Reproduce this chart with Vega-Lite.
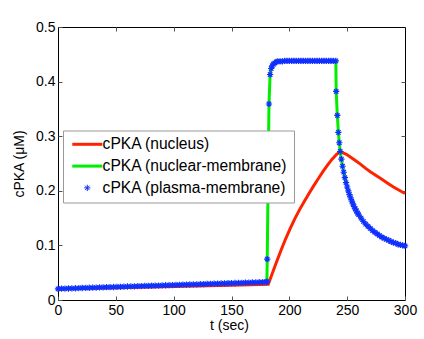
{
  "$schema": "https://vega.github.io/schema/vega-lite/v6.json",
  "width": 347,
  "height": 273,
  "autosize": {"type": "none"},
  "padding": {"left": 58, "top": 27, "right": 19, "bottom": 39},
  "background": "white",
  "config": {
    "font": "Liberation Sans",
    "view": {"stroke": "#000", "strokeWidth": 1},
    "axis": {
      "domain": false,
      "grid": false,
      "tickSize": -4,
      "tickColor": "#555",
      "labelFontSize": 14,
      "labelColor": "#000",
      "labelPadding": 7,
      "labelFlush": false,
      "labelOverlap": false,
      "titleFontSize": 14,
      "titleFontWeight": "normal",
      "titleColor": "#000"
    }
  },
  "datasets": {
    "nucleus": [
      {"t": 0, "v": 0.0200}, {"t": 30, "v": 0.0214}, {"t": 60, "v": 0.0229}, {"t": 90, "v": 0.0243},
      {"t": 120, "v": 0.0257}, {"t": 150, "v": 0.0271}, {"t": 181.8, "v": 0.0290},
      {"t": 185, "v": 0.047}, {"t": 189, "v": 0.070}, {"t": 193, "v": 0.092}, {"t": 197, "v": 0.113},
      {"t": 201, "v": 0.132}, {"t": 205, "v": 0.150}, {"t": 209, "v": 0.166}, {"t": 213, "v": 0.181},
      {"t": 217, "v": 0.195}, {"t": 221, "v": 0.209}, {"t": 225, "v": 0.222}, {"t": 229, "v": 0.235},
      {"t": 233, "v": 0.247}, {"t": 237, "v": 0.258}, {"t": 241, "v": 0.267}, {"t": 244.5, "v": 0.272},
      {"t": 247, "v": 0.269}, {"t": 250, "v": 0.266}, {"t": 254, "v": 0.260}, {"t": 258, "v": 0.254},
      {"t": 262, "v": 0.248}, {"t": 266, "v": 0.241}, {"t": 270, "v": 0.235}, {"t": 275, "v": 0.228},
      {"t": 280, "v": 0.221}, {"t": 285, "v": 0.214}, {"t": 290, "v": 0.207}, {"t": 295, "v": 0.201},
      {"t": 300, "v": 0.195}
    ],
    "membrane": [
      {"t": 0, "v": 0.0205}, {"t": 3, "v": 0.0207}, {"t": 6, "v": 0.0209}, {"t": 9, "v": 0.0211},
      {"t": 12, "v": 0.0213}, {"t": 15, "v": 0.0215}, {"t": 18, "v": 0.0217}, {"t": 21, "v": 0.0220},
      {"t": 24, "v": 0.0222}, {"t": 27, "v": 0.0224}, {"t": 30, "v": 0.0226}, {"t": 33, "v": 0.0228},
      {"t": 36, "v": 0.0230}, {"t": 39, "v": 0.0232}, {"t": 42, "v": 0.0234}, {"t": 45, "v": 0.0236},
      {"t": 48, "v": 0.0238}, {"t": 51, "v": 0.0240}, {"t": 54, "v": 0.0242}, {"t": 57, "v": 0.0245},
      {"t": 60, "v": 0.0247}, {"t": 63, "v": 0.0249}, {"t": 66, "v": 0.0251}, {"t": 69, "v": 0.0253},
      {"t": 72, "v": 0.0255}, {"t": 75, "v": 0.0257}, {"t": 78, "v": 0.0259}, {"t": 81, "v": 0.0261},
      {"t": 84, "v": 0.0263}, {"t": 87, "v": 0.0265}, {"t": 90, "v": 0.0267}, {"t": 93, "v": 0.0270},
      {"t": 96, "v": 0.0272}, {"t": 99, "v": 0.0274}, {"t": 102, "v": 0.0276}, {"t": 105, "v": 0.0278},
      {"t": 108, "v": 0.0280}, {"t": 111, "v": 0.0282}, {"t": 114, "v": 0.0284}, {"t": 117, "v": 0.0286},
      {"t": 120, "v": 0.0288}, {"t": 123, "v": 0.0290}, {"t": 126, "v": 0.0292}, {"t": 129, "v": 0.0295},
      {"t": 132, "v": 0.0297}, {"t": 135, "v": 0.0299}, {"t": 138, "v": 0.0301}, {"t": 141, "v": 0.0303},
      {"t": 144, "v": 0.0305}, {"t": 147, "v": 0.0307}, {"t": 150, "v": 0.0309}, {"t": 153, "v": 0.0311},
      {"t": 156, "v": 0.0313}, {"t": 159, "v": 0.0315}, {"t": 162, "v": 0.0317}, {"t": 165, "v": 0.0320},
      {"t": 168, "v": 0.0322}, {"t": 171, "v": 0.0324}, {"t": 174, "v": 0.0326}, {"t": 177, "v": 0.0328},
      {"t": 180, "v": 0.0330}, {"t": 180.6, "v": 0.0335},
      {"t": 180.9, "v": 0.075}, {"t": 182.4, "v": 0.359}, {"t": 183.4, "v": 0.413}, {"t": 184.3, "v": 0.424},
      {"t": 185.2, "v": 0.429}, {"t": 186.2, "v": 0.432}, {"t": 187.4, "v": 0.434}, {"t": 188.6, "v": 0.436},
      {"t": 190, "v": 0.437}, {"t": 192, "v": 0.437}, {"t": 194, "v": 0.437}, {"t": 196, "v": 0.438},
      {"t": 198, "v": 0.438}, {"t": 200, "v": 0.438}, {"t": 202, "v": 0.438}, {"t": 204, "v": 0.438},
      {"t": 206, "v": 0.438}, {"t": 208, "v": 0.438}, {"t": 210, "v": 0.438}, {"t": 212, "v": 0.438},
      {"t": 214, "v": 0.438}, {"t": 216, "v": 0.438}, {"t": 218, "v": 0.438}, {"t": 220, "v": 0.438},
      {"t": 222, "v": 0.438}, {"t": 224, "v": 0.438}, {"t": 226, "v": 0.438}, {"t": 228, "v": 0.438},
      {"t": 230, "v": 0.438}, {"t": 232, "v": 0.438}, {"t": 234, "v": 0.438}, {"t": 236, "v": 0.438},
      {"t": 238, "v": 0.438}, {"t": 240.2, "v": 0.438},
      {"t": 240.5, "v": 0.382}, {"t": 241.5, "v": 0.338}, {"t": 242.4, "v": 0.307}, {"t": 243.2, "v": 0.288},
      {"t": 244, "v": 0.272}, {"t": 245, "v": 0.258}, {"t": 246, "v": 0.245}, {"t": 247, "v": 0.234},
      {"t": 248, "v": 0.224}, {"t": 249, "v": 0.215}, {"t": 250, "v": 0.207}, {"t": 251, "v": 0.200},
      {"t": 252, "v": 0.193}, {"t": 253, "v": 0.187}, {"t": 254, "v": 0.181}, {"t": 255, "v": 0.176},
      {"t": 256, "v": 0.171}, {"t": 257, "v": 0.167}, {"t": 258, "v": 0.163}, {"t": 259, "v": 0.159},
      {"t": 260, "v": 0.156}, {"t": 262, "v": 0.150}, {"t": 264, "v": 0.144}, {"t": 266, "v": 0.139},
      {"t": 268, "v": 0.135}, {"t": 270, "v": 0.131}, {"t": 272, "v": 0.127}, {"t": 274, "v": 0.124},
      {"t": 276, "v": 0.121}, {"t": 278, "v": 0.118}, {"t": 280, "v": 0.115}, {"t": 282, "v": 0.113},
      {"t": 284, "v": 0.111}, {"t": 286, "v": 0.109}, {"t": 288, "v": 0.107}, {"t": 290, "v": 0.105},
      {"t": 292, "v": 0.104}, {"t": 294, "v": 0.102}, {"t": 296, "v": 0.101}, {"t": 298, "v": 0.100},
      {"t": 300, "v": 0.099}
    ]
  },
  "resolve": {"axis": {"x": "independent", "y": "independent"}},
  "layer": [
    {
      "data": {"name": "nucleus"},
      "mark": {"type": "line", "strokeWidth": 3},
      "encoding": {
        "x": {"field": "t", "type": "quantitative", "scale": {"domain": [0, 300], "nice": false, "zero": false},
          "axis": {"orient": "bottom", "values": [0, 50, 100, 150, 200, 250, 300], "title": "t (sec)",
            "titleX": 171, "titleY": 25, "titleBaseline": "middle", "titleAlign": "center"}},
        "y": {"field": "v", "type": "quantitative", "scale": {"domain": [0, 0.5], "nice": false},
          "axis": {"orient": "left", "values": [0, 0.1, 0.2, 0.3, 0.4, 0.5], "title": "cPKA (μM)",
            "labelExpr": "datum.value == 0 ? '0' : format(datum.value, '.1f')",
            "titleAngle": -90, "titleX": -39, "titleY": 136.5, "titleBaseline": "middle", "titleAlign": "center"}},
        "color": {"datum": "cPKA (nucleus)", "type": "nominal",
          "scale": {"domain": ["cPKA (nucleus)", "cPKA (nuclear-membrane)", "cPKA (plasma-membrane)"],
            "range": ["#ff2200", "#00ee00", "#1030ff"]},
          "legend": {"title": null, "orient": "none", "legendX": 5, "legendY": 103.5,
            "padding": 6, "symbolOffset": 10.5, "labelOffset": 7.5, "rowPadding": 4.8,
            "symbolSize": 441, "labelFontSize": 15.6, "labelColor": "#000", "labelLimit": 400,
            "strokeColor": "#999", "fillColor": "#fff", "symbolOpacity": 1, "symbolStrokeWidth": 3,
            "encode": {"symbols": {"update": {
              "shape": {"signal": "datum.value === 'cPKA (plasma-membrane)' ? 'M-0.3,0L0.3,0M0,-0.3L0,0.3M-0.21,-0.21L0.21,0.21M-0.21,0.21L0.21,-0.21' : 'M-1.43,0L1.43,0'"},
              "strokeWidth": {"signal": "datum.value === 'cPKA (plasma-membrane)' ? 1 : 3"},
              "fill": {"value": "transparent"}
            }}}}}
      }
    },
    {
      "data": {"name": "membrane"},
      "mark": {"type": "line", "strokeWidth": 3},
      "encoding": {
        "x": {"field": "t", "type": "quantitative",
          "axis": {"orient": "top", "values": [50, 100, 150, 200, 250], "labels": false, "title": null}},
        "y": {"field": "v", "type": "quantitative",
          "axis": {"orient": "right", "values": [0.1, 0.2, 0.3, 0.4], "labels": false, "title": null}},
        "color": {"datum": "cPKA (nuclear-membrane)", "type": "nominal"}
      }
    },
    {
      "data": {"name": "membrane"},
      "mark": {"type": "point", "shape": "M-0.3,0L0.3,0M0,-0.3L0,0.3M-0.21,-0.21L0.21,0.21M-0.21,0.21L0.21,-0.21",
        "size": 441, "filled": false, "strokeWidth": 1.2, "opacity": 1},
      "encoding": {
        "x": {"field": "t", "type": "quantitative", "axis": null},
        "y": {"field": "v", "type": "quantitative", "axis": null},
        "color": {"datum": "cPKA (plasma-membrane)", "type": "nominal"}
      }
    }
  ]
}
